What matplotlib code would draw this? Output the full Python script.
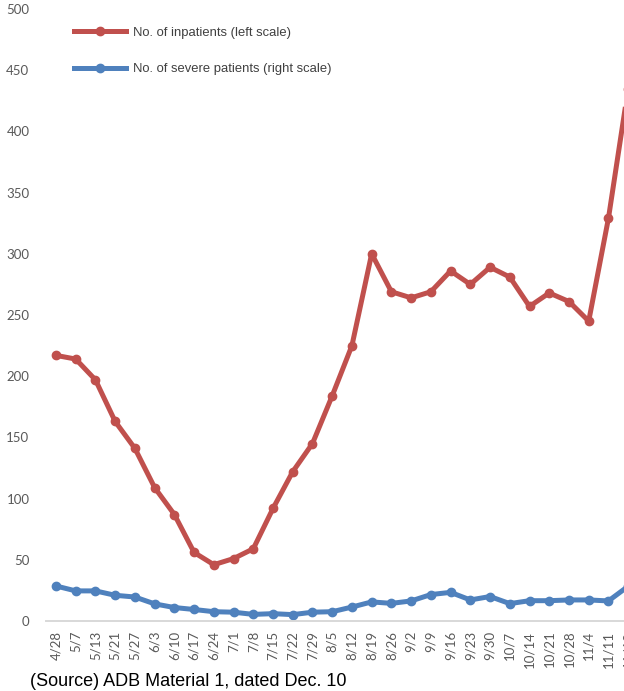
import numpy as np
import matplotlib.pyplot as plt

# weekly dates (category axis)
dates = ["4/28", "5/7", "5/13", "5/21", "5/27", "6/3", "6/10", "6/17", "6/24",
         "7/1", "7/8", "7/15", "7/22", "7/29", "8/5", "8/12", "8/19", "8/26",
         "9/2", "9/9", "9/16", "9/23", "9/30", "10/7", "10/14", "10/21",
         "10/28", "11/4", "11/11", "11/18"]

# no. of inpatients (left scale)
inpatients = [217, 214, 197, 163, 141, 109, 87, 56, 46, 51, 59, 92, 122,
              145, 184, 225, 300, 269, 264, 269, 286, 275, 289, 281, 257,
              268, 261, 245, 329, 435]

# no. of severe patients (right scale)
severe = [14.3, 12.3, 12.3, 10.5, 9.8, 7.0, 5.5, 4.7, 3.8, 3.6, 2.7, 3.0,
          2.6, 3.6, 3.8, 5.7, 7.8, 7.2, 8.2, 10.8, 11.7, 8.6, 10.0, 7.1,
          8.3, 8.3, 8.6, 8.6, 8.2, 14.2]

red = "#C0504D"
blue = "#4F81BD"
grey = "#595959"

fig = plt.figure(figsize=(6.24, 6.91), dpi=100)
# plot area runs past the right edge of the figure
ax = fig.add_axes([0.0739, 0.1013, 0.9486, 0.8857])
ax2 = ax.twinx()

x = np.arange(len(dates))
l1, = ax.plot(x, inpatients, color=red, lw=3.6, marker="o", ms=6,
              label="No. of inpatients (left scale)")
l2, = ax2.plot(x, severe, color=blue, lw=3.6, marker="o", ms=6,
               label="No. of severe patients (right scale)")

ax.set_xlim(-0.5, len(dates) - 0.5)
ax.set_ylim(0, 500)
ax.set_yticks(np.arange(0, 501, 50))
ax2.set_ylim(0, 250)

ax.set_xticks(x)
ax.set_xticklabels(dates, rotation=90, family="Lato", fontsize=9.5, color=grey)
for lab in ax.get_yticklabels():
    lab.set_family("Lato")
    lab.set_fontsize(9.5)
    lab.set_color(grey)
ax.tick_params(axis="x", length=0, pad=7)
ax.tick_params(axis="y", length=0, pad=12)
ax2.set_yticks([])

for a in (ax, ax2):
    for s in ("top", "left", "right"):
        a.spines[s].set_visible(False)
    a.spines["bottom"].set_color("#D9D9D9")
    a.spines["bottom"].set_linewidth(1.3)

leg = ax2.legend(handles=[l1, l2], loc="upper left",
                 bbox_to_anchor=(0.1186, 0.9616), bbox_transform=fig.transFigure,
                 frameon=False, handlelength=3.97, handletextpad=0.54,
                 labelspacing=1.86, borderaxespad=0, borderpad=0,
                 prop={"family": "Liberation Sans", "size": 9.4})
for t in leg.get_texts():
    t.set_color("#404040")

fig.text(0.048, 0.0072, "(Source) ADB Material 1, dated Dec. 10",
         family="Liberation Sans", fontsize=13, color="black", va="baseline")

fig.savefig("out.png", dpi=100)
